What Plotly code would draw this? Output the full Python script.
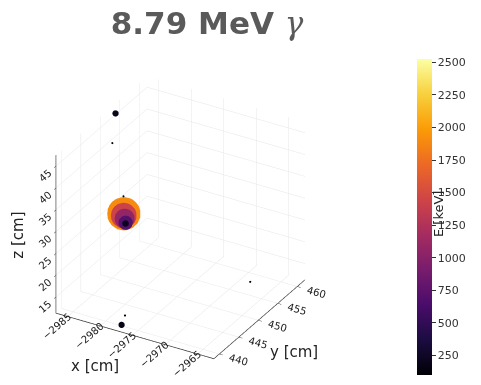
import plotly.graph_objects as go

# energy deposits
dep_x = [-2986.1, -2984.13, -2984.13, -2983.98, -2983.82, -2983.82, -2977.1]
dep_y = [452.7, 451.47, 451.47, 451.47, 451.47, 451.47, 439.25]
dep_z = [46.5, 25.42, 24.96, 24.3, 23.4, 23.2, 12.3]
dep_E = [200, 1900, 1420, 1060, 700, 220, 200]

# secondary track points
trk_x = [-2986.1, -2984.13, -2976.9, -2963.2]
trk_y = [451.9, 451.47, 439.8, 449.1]
trk_z = [40.3, 29.3, 14.1, 20.5]

x_ticks = [-2985, -2980, -2975, -2970, -2965]
y_ticks = [440, 445, 450, 455, 460]
z_ticks = [15, 20, 25, 30, 35, 40, 45]
cbar_ticks = [250, 500, 750, 1000, 1250, 1500, 1750, 2000, 2250, 2500]

E_MIN, E_MAX = 101, 2525
X_RANGE = [-2986.8, -2962.5]
Y_RANGE = [438.6, 462.0]
Z_RANGE = [11.3, 47.5]
eye = (0.433, -0.75, 0.5)
EYE_DIST = 1.8
DOM_Y = [0.0, 0.85]
BOX = 1.11 * 0.87 / 0.85

# the overlapping cluster: nudge smaller deposits toward the camera (along the view
# direction, so the screen position is unchanged) so they are drawn on top
sx = X_RANGE[1] - X_RANGE[0]
sy = Y_RANGE[1] - Y_RANGE[0]
sz = Z_RANGE[1] - Z_RANGE[0]
cluster = [1, 2, 3, 4, 5]
px, py, pz = list(dep_x), list(dep_y), list(dep_z)
for rank, i in enumerate(sorted(cluster, key=lambda k: -dep_E[k])):
    t = 0.012 * rank
    px[i] += t * eye[0] * sx
    py[i] += t * eye[1] * sy
    pz[i] += t * eye[2] * sz
draw = sorted(range(len(dep_E)), key=lambda i: -dep_E[i])
px = [px[i] for i in draw]
py = [py[i] for i in draw]
pz = [pz[i] for i in draw]
pE = [dep_E[i] for i in draw]
sizes = [(3 + e / 65) * 1.2 for e in pE]

fig = go.Figure()
fig.add_trace(go.Scatter3d(
    x=px, y=py, z=pz, mode="markers",
    marker=dict(size=sizes, color=pE, colorscale="Inferno", cmin=E_MIN, cmax=E_MAX,
                opacity=1, line=dict(width=0),
                colorbar=dict(x=407 / 481, xanchor="left", y=(385 - 221) / 385, yanchor="middle",
                              len=342 / 385, lenmode="fraction", thickness=15,
                              outlinewidth=0, ticks="outside", ticklen=4,
                              tickcolor="#333", tickvals=cbar_ticks,
                              tickfont=dict(family="DejaVu Sans", size=11, color="#333"))),
    hoverinfo="skip", showlegend=False))
fig.add_trace(go.Scatter3d(
    x=trk_x, y=trk_y, z=trk_z, mode="markers",
    marker=dict(size=1.2, color="black", line=dict(width=0)),
    hoverinfo="skip", showlegend=False))

ax = dict(showbackground=False, gridcolor="#e6e6e6", gridwidth=1, zeroline=False,
          showline=True, linecolor="#333", linewidth=1.5, ticks="outside", ticklen=4,
          tickcolor="#333", showspikes=False, title=dict(text=""),
          tickfont=dict(family="DejaVu Sans", size=11, color="#222"))
lab = dict(family="DejaVu Sans", size=15, color="#222")
fig.update_layout(
    width=481, height=385, margin=dict(l=0, r=0, t=0, b=0),
    paper_bgcolor="white", plot_bgcolor="white",
    title=dict(text="8.79 MeV <span style='font-family:DejaVu Serif;font-style:italic;font-weight:normal'>γ</span>",
               x=207 / 481, xanchor="center", y=1 - 23 / 385, yanchor="middle",
               font=dict(family="DejaVu Sans", size=31, color="#5a5a5a", weight="bold")),
    scene=dict(
        domain=dict(x=[0.0, 0.75], y=DOM_Y),
        aspectmode="manual",
        aspectratio=dict(x=BOX, y=BOX, z=BOX),
        xaxis=dict(ax, range=X_RANGE, tickvals=x_ticks),
        yaxis=dict(ax, range=Y_RANGE, tickvals=y_ticks),
        zaxis=dict(ax, range=Z_RANGE, tickvals=z_ticks),
        camera=dict(eye=dict(x=eye[0] * EYE_DIST, y=eye[1] * EYE_DIST, z=eye[2] * EYE_DIST),
                    up=dict(x=0, y=0, z=1), center=dict(x=0, y=0, z=0),
                    projection=dict(type="orthographic")),
    ),
    annotations=[
        dict(text="E [keV]", x=438 / 481, y=(385 - 218) / 385, xref="paper", yref="paper",
             xanchor="center", yanchor="middle",
             showarrow=False, textangle=-90, font=dict(family="DejaVu Sans", size=13, color="#222")),
        dict(text="x [cm]", x=95 / 481, y=(385 - 373) / 385, xref="paper", yref="paper",
             xanchor="center", yanchor="middle", showarrow=False, font=lab),
        dict(text="y [cm]", x=294 / 481, y=(385 - 359) / 385, xref="paper", yref="paper",
             xanchor="center", yanchor="middle", showarrow=False, font=lab),
        dict(text="z [cm]", x=18 / 481, y=(385 - 240) / 385, xref="paper", yref="paper",
             xanchor="center", yanchor="middle", textangle=-90, showarrow=False, font=lab),
    ],
)
fig.write_html("out.html")
